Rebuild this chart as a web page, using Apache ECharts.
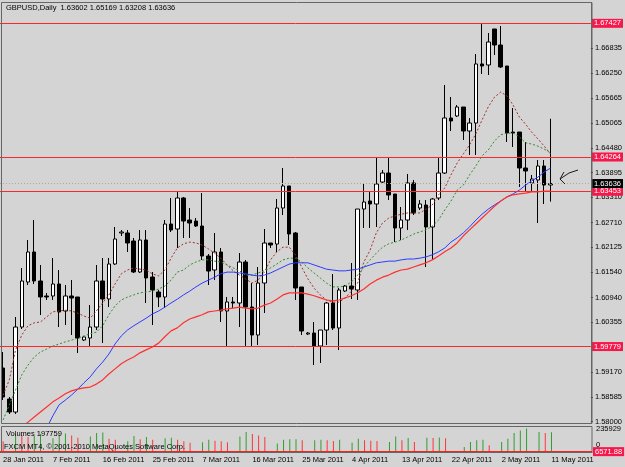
<!DOCTYPE html>
<html>
<head>
<meta charset="utf-8">
<title>GBPUSD Daily</title>
<script src="https://cdn.jsdelivr.net/npm/echarts@6/dist/echarts.min.js"></script>
<style>
  html, body { margin: 0; padding: 0; background: #d4d4d4; }
  #chart { width: 625px; height: 467px; }
</style>
</head>
<body>
<div id="chart"></div>
<script>
// daily bars (FXCM, sunday bars included)
const dates = [
  '28 Jan 2011','30 Jan 2011','31 Jan 2011',
  '1 Feb 2011','2 Feb 2011','3 Feb 2011','4 Feb 2011','6 Feb 2011','7 Feb 2011','8 Feb 2011','9 Feb 2011','10 Feb 2011','11 Feb 2011',
  '13 Feb 2011','14 Feb 2011','15 Feb 2011','16 Feb 2011','17 Feb 2011','18 Feb 2011','20 Feb 2011','21 Feb 2011','22 Feb 2011',
  '23 Feb 2011','24 Feb 2011','25 Feb 2011','27 Feb 2011','28 Feb 2011',
  '1 Mar 2011','2 Mar 2011','3 Mar 2011','4 Mar 2011','6 Mar 2011','7 Mar 2011','8 Mar 2011','9 Mar 2011','10 Mar 2011','11 Mar 2011',
  '13 Mar 2011','14 Mar 2011','15 Mar 2011','16 Mar 2011','17 Mar 2011','18 Mar 2011','20 Mar 2011','21 Mar 2011','22 Mar 2011',
  '23 Mar 2011','24 Mar 2011','25 Mar 2011','27 Mar 2011','28 Mar 2011','29 Mar 2011','30 Mar 2011','31 Mar 2011',
  '1 Apr 2011','3 Apr 2011','4 Apr 2011','5 Apr 2011','6 Apr 2011','7 Apr 2011','8 Apr 2011','10 Apr 2011','11 Apr 2011','12 Apr 2011',
  '13 Apr 2011','14 Apr 2011','15 Apr 2011','17 Apr 2011','18 Apr 2011','19 Apr 2011','20 Apr 2011','21 Apr 2011','22 Apr 2011',
  '24 Apr 2011','25 Apr 2011','26 Apr 2011','27 Apr 2011','28 Apr 2011','29 Apr 2011',
  '1 May 2011','2 May 2011','3 May 2011','4 May 2011','5 May 2011','6 May 2011','8 May 2011','9 May 2011','10 May 2011','11 May 2011'
];

const open = [
  1.59271,1.58537,1.58230,1.60241,1.61306,1.62016,1.61330,1.60975,1.60975,1.61259,
  1.60620,1.60975,1.60951,1.59934,1.59981,1.60241,1.61330,1.60904,1.61732,1.62466,
  1.62466,1.62276,1.61543,1.62300,1.61424,1.61069,1.60951,1.62678,1.62560,1.63294,
  1.62773,1.62749,1.62631,1.61921,1.61590,1.62016,1.60620,1.60833,1.60809,1.61779,
  1.60714,1.60052,1.61282,1.62229,1.62205,1.63057,1.63578,1.62466,1.61188,1.60076,
  1.60099,1.59792,1.60170,1.60809,1.60218,1.61093,1.61211,1.61117,1.63033,1.63223,
  1.63152,1.63672,1.63885,1.63388,1.62584,1.62773,1.63649,1.63057,1.63128,1.62608,
  1.63294,1.63885,1.65187,1.65234,1.65447,1.64879,1.65068,1.66465,1.66441,1.67293,
  1.66914,1.66417,1.64855,1.64855,1.64004,1.63649,1.63720,1.64051,1.63602
];
const close = [
  1.58585,1.58230,1.60241,1.61330,1.62016,1.61330,1.60951,1.60951,1.61259,1.60596,
  1.60975,1.60927,1.59981,1.60005,1.60241,1.61330,1.60904,1.61732,1.62324,1.62489,
  1.62229,1.61543,1.62300,1.61401,1.61117,1.60951,1.62678,1.62537,1.63294,1.62749,
  1.62702,1.62631,1.61921,1.61566,1.62016,1.60620,1.60833,1.60809,1.61779,1.60714,
  1.60052,1.61282,1.62229,1.62182,1.63057,1.63578,1.62442,1.61164,1.60147,1.60099,
  1.59792,1.60170,1.60809,1.60218,1.61117,1.61211,1.61140,1.63033,1.63199,1.63152,
  1.63625,1.63885,1.63365,1.62584,1.62773,1.63649,1.62939,1.63152,1.62608,1.63270,
  1.63885,1.65187,1.65116,1.65447,1.64879,1.65068,1.66465,1.66417,1.66985,1.66914,
  1.66394,1.64832,1.64832,1.64004,1.63933,1.63743,1.64051,1.63601,1.63636
];
const low = [
  1.58514,1.58183,1.58183,1.60194,1.61235,1.61259,1.60525,1.60880,1.60880,1.60241,
  1.60289,1.60052,1.59626,1.59910,1.59768,1.60170,1.59863,1.60714,1.61708,1.62395,
  1.62016,1.61519,1.61519,1.60809,1.60289,1.60714,1.60691,1.62489,1.62111,1.62347,
  1.62347,1.62608,1.61827,1.61235,1.61353,1.60359,1.59768,1.60691,1.60241,1.59768,
  1.59768,1.59815,1.60572,1.62111,1.62016,1.62891,1.62182,1.60880,1.60052,1.60052,
  1.59342,1.59390,1.59815,1.60170,1.59697,1.61069,1.60904,1.60880,1.62584,1.62584,
  1.62608,1.63649,1.63246,1.62253,1.62300,1.62537,1.62891,1.63010,1.61661,1.61827,
  1.63246,1.63862,1.64879,1.65210,1.64666,1.64311,1.64311,1.66228,1.66204,1.66678,
  1.66370,1.64619,1.64501,1.63554,1.63436,1.63436,1.62702,1.63152,1.63208
];
const high = [
  1.59650,1.58585,1.60478,1.61637,1.62300,1.62773,1.61708,1.61046,1.61874,1.61590,
  1.61235,1.61353,1.60951,1.60028,1.60762,1.61708,1.61874,1.61874,1.62608,1.62537,
  1.62537,1.62347,1.62537,1.62537,1.61543,1.61117,1.62773,1.63294,1.63436,1.63317,
  1.63057,1.62820,1.63412,1.61969,1.62466,1.62111,1.60951,1.60951,1.61992,1.61827,
  1.61282,1.61661,1.62560,1.62229,1.63270,1.64004,1.63578,1.62489,1.61188,1.60123,
  1.60359,1.60170,1.60833,1.61495,1.61164,1.61235,1.61756,1.63033,1.63649,1.63436,
  1.64240,1.63956,1.64240,1.63388,1.63081,1.63862,1.63720,1.63246,1.63246,1.63294,
  1.64240,1.65968,1.65684,1.65494,1.65447,1.65187,1.66701,1.67427,1.67198,1.67293,
  1.67364,1.66417,1.65423,1.64855,1.64619,1.63838,1.64193,1.64193,1.65169
];

// moving averages
const maFast = [
  1.5863,1.5899,1.5970,1.6005,1.6027,1.6034,1.6036,1.6048,1.6060,1.6062,
  1.6064,1.6062,1.6057,1.6050,1.6045,1.6062,1.6081,1.6100,1.6126,1.6150,
  1.6159,1.6164,1.6161,1.6159,1.6150,1.6145,1.6159,1.6187,1.6211,1.6221,
  1.6225,1.6223,1.6218,1.6209,1.6199,1.6187,1.6171,1.6157,1.6147,1.6138,
  1.6128,1.6135,1.6154,1.6183,1.6202,1.6213,1.6213,1.6195,1.6166,1.6138,
  1.6116,1.6100,1.6088,1.6083,1.6083,1.6093,1.6109,1.6128,1.6178,1.6206,
  1.6247,1.6270,1.6282,1.6287,1.6291,1.6294,1.6294,1.6294,1.6303,1.6313,
  1.6337,1.6353,1.6384,1.6412,1.6434,1.6455,1.6481,1.6514,1.6545,1.6568,
  1.6580,1.6571,1.6549,1.6521,1.6504,1.6485,1.6469,1.6452,1.6434
];
const maMid = [
  1.5804,1.5840,1.5875,1.5911,1.5934,1.5953,1.5965,1.5972,1.5979,1.5984,
  1.5989,1.5993,1.5998,1.6003,1.6008,1.6012,1.6027,1.6053,1.6074,1.6088,
  1.6095,1.6100,1.6105,1.6107,1.6109,1.6114,1.6121,1.6135,1.6154,1.6159,
  1.6171,1.6178,1.6183,1.6183,1.6180,1.6178,1.6171,1.6164,1.6157,1.6147,
  1.6147,1.6152,1.6157,1.6164,1.6173,1.6183,1.6187,1.6187,1.6178,1.6164,
  1.6152,1.6140,1.6128,1.6119,1.6119,1.6121,1.6131,1.6147,1.6166,1.6183,
  1.6199,1.6213,1.6221,1.6225,1.6230,1.6237,1.6244,1.6249,1.6254,1.6263,
  1.6277,1.6301,1.6322,1.6348,1.6360,1.6384,1.6405,1.6429,1.6443,1.6464,
  1.6479,1.6483,1.6483,1.6474,1.6460,1.6457,1.6452,1.6445,1.6436
];
const maBlue = [
  1.5662,1.5679,1.5695,1.5712,1.5728,1.5745,1.5764,1.5785,1.5814,1.5840,
  1.5851,1.5863,1.5877,1.5892,1.5906,1.5925,1.5941,1.5960,1.5984,1.6003,
  1.6017,1.6027,1.6036,1.6045,1.6055,1.6062,1.6071,1.6081,1.6090,1.6100,
  1.6109,1.6119,1.6128,1.6135,1.6142,1.6150,1.6154,1.6154,1.6152,1.6150,
  1.6147,1.6145,1.6147,1.6152,1.6159,1.6166,1.6173,1.6176,1.6176,1.6176,
  1.6171,1.6166,1.6161,1.6159,1.6157,1.6157,1.6159,1.6161,1.6166,1.6171,
  1.6176,1.6178,1.6180,1.6180,1.6183,1.6185,1.6185,1.6187,1.6190,1.6195,
  1.6202,1.6211,1.6225,1.6235,1.6247,1.6261,1.6277,1.6291,1.6303,1.6313,
  1.6322,1.6332,1.6339,1.6348,1.6360,1.6370,1.6379,1.6391,1.6400
];
const maRed = [
  1.5757,1.5766,1.5778,1.5788,1.5799,1.5811,1.5823,1.5835,1.5847,1.5856,
  1.5866,1.5873,1.5877,1.5880,1.5882,1.5889,1.5899,1.5913,1.5925,1.5937,
  1.5946,1.5953,1.5963,1.5970,1.5977,1.5986,1.6001,1.6015,1.6022,1.6034,
  1.6043,1.6048,1.6053,1.6060,1.6062,1.6064,1.6067,1.6069,1.6071,1.6069,
  1.6067,1.6069,1.6076,1.6081,1.6090,1.6100,1.6105,1.6105,1.6105,1.6102,
  1.6098,1.6093,1.6088,1.6086,1.6088,1.6093,1.6098,1.6105,1.6114,1.6126,
  1.6135,1.6142,1.6147,1.6154,1.6159,1.6161,1.6166,1.6171,1.6176,1.6183,
  1.6192,1.6202,1.6211,1.6223,1.6240,1.6254,1.6268,1.6282,1.6296,1.6310,
  1.6322,1.6332,1.6337,1.6339,1.6341,1.6344,1.6344,1.6346,1.6346
];

const volumes = [
  110000,5000,180000,170000,150000,160000,180000,5000,140000,175000,
  185000,165000,145000,4000,157000,190000,195000,135000,125000,5000,
  110000,160000,130000,150000,125000,5000,140000,145000,125000,110000,
  95000,4000,100000,125000,115000,110000,100000,4000,157000,200000,
  180000,165000,150000,4000,88000,125000,128000,130000,118000,4000,
  118000,125000,118000,112000,125000,5000,95000,135000,118000,115000,
  112000,4000,101000,157000,118000,141000,101000,4000,144000,141000,
  146000,138000,10000,3000,52000,101000,118000,125000,69000,5000,
  101000,135000,190000,216000,235929,6000,200000,190000,197759
];

const priceTicks = [1.58000,1.58585,1.59170,1.60355,1.60940,1.61540,1.62125,1.62710,
  1.63310,1.63895,1.64480,1.65065,1.65665,1.66250,1.66835];
const levels = [1.67427, 1.64264, 1.63453, 1.59779];
const bid = 1.63636;
const volLevel = 6571.88;
const volMax = 235929;

const chart = echarts.init(document.getElementById('chart'));

const shift = 6; // empty bars on the right (chart shift)
const cats = dates.concat(new Array(shift).fill(''));
const last = dates.length - 1;
const font = 'Liberation Sans';
const fs = 7.5;
const fmt = v => v.toFixed(5);
const frame = '#666666';

const candles = dates.map((d, i) => [open[i], close[i], low[i], high[i]]);
const volData = volumes.map((v, i) => ({
  value: v,
  itemStyle: { color: i > 0 && v > volumes[i - 1] ? '#2f9f2f' : '#ff3535' }
}));

function boxLabel(text, bg) {
  return {
    show: true, position: 'end', distance: 1,
    formatter: text, color: '#ffffff', backgroundColor: bg,
    padding: [1, 2, 0, 2], fontSize: fs, fontFamily: font
  };
}

const levelLines = levels.map(v => ({
  yAxis: v,
  lineStyle: { color: '#ff2626', width: 1, type: 'solid' },
  label: boxLabel(fmt(v), '#f7174b')
}));
levelLines.push({
  yAxis: bid,
  lineStyle: { color: '#a9a9a9', width: 1, type: [1, 2] },
  label: boxLabel(fmt(bid), '#000000')
});

function maLine(data, color, width, type) {
  return {
    type: 'line', xAxisIndex: 0, yAxisIndex: 0, data: data,
    showSymbol: false, silent: true, z: 3,
    lineStyle: { color: color, width: width, type: type }
  };
}

chart.setOption({
  backgroundColor: '#d4d4d4',
  animation: false,
  textStyle: { fontFamily: font },
  grid: [
    { left: 0, right: 33, top: 3, height: 420.5 },
    { left: 0, right: 33, top: 427, height: 25.3 }
  ],
  xAxis: [
    { type: 'category', gridIndex: 0, data: cats, boundaryGap: true, show: false },
    {
      type: 'category', gridIndex: 1, data: cats, boundaryGap: true,
      axisLine: { lineStyle: { color: frame } },
      axisTick: { alignWithLabel: true, interval: 7, length: 3, lineStyle: { color: frame } },
      axisLabel: { interval: 7, align: 'left', fontSize: fs, color: '#000', margin: 4, fontFamily: font }
    }
  ],
  yAxis: [
    {
      type: 'value', gridIndex: 0, position: 'right', min: 1.57958, max: 1.67908,
      splitLine: { show: false },
      axisLine: { show: true, lineStyle: { color: frame } },
      axisTick: { show: true, customValues: priceTicks, length: 2, lineStyle: { color: '#333' } },
      axisLabel: { customValues: priceTicks, formatter: fmt, fontSize: fs, color: '#000', margin: 4, fontFamily: font }
    },
    { type: 'value', gridIndex: 1, min: 0, max: 250000, show: false }
  ],
  series: [
    {
      type: 'candlestick', xAxisIndex: 0, yAxisIndex: 0, data: candles,
      barWidth: 4, z: 2,
      itemStyle: {
        color: '#ffffff', color0: '#000000',
        borderColor: '#000000', borderColor0: '#000000', borderColorDoji: '#000000',
        borderWidth: 1
      },
      markLine: { symbol: 'none', silent: true, animation: false, precision: 5, data: levelLines }
    },
    maLine(maFast, '#a3302c', 1, [2, 2]),
    maLine(maMid, '#2e8f2e', 1, [2, 2]),
    maLine(maBlue, '#2b3bff', 1, 'solid'),
    maLine(maRed, '#ff3030', 1.2, 'solid'),
    {
      type: 'bar', xAxisIndex: 1, yAxisIndex: 1, data: volData, barWidth: 1, silent: true,
      markLine: {
        symbol: 'none', silent: true, animation: false, precision: 2,
        data: [{
          yAxis: volLevel,
          lineStyle: { color: '#ff1f1f', width: 2, type: 'solid' },
          label: boxLabel(volLevel.toFixed(2), '#f7174b')
        }]
      }
    }
  ],
  graphic: [
    { type: 'rect', silent: true, z: 50, shape: { x: 1.5, y: 2.5, width: 590.5, height: 421 },
      style: { fill: 'none', stroke: frame, lineWidth: 1 } },
    { type: 'rect', silent: true, z: 50, shape: { x: 1.5, y: 426.5, width: 590.5, height: 26 },
      style: { fill: 'none', stroke: frame, lineWidth: 1 } },
    { type: 'text', x: 6, y: 4, z: 60,
      style: { text: 'GBPUSD,Daily  ' + fmt(open[last]) + ' ' + fmt(high[last]) + ' ' + fmt(low[last]) + ' ' + fmt(close[last]),
        fill: '#000', fontSize: fs, fontFamily: font } },
    { type: 'text', x: 6, y: 430, z: 60,
      style: { text: 'Volumes ' + volumes[last], fill: '#000', fontSize: fs, fontFamily: font } },
    { type: 'text', x: 4, y: 443, z: 60,
      style: { text: 'FXCM MT4, \u00a9 2001-2010 MetaQuotes Software Corp.', fill: '#000', fontSize: fs, fontFamily: font } },
    { type: 'text', x: 596, y: 424.5, z: 60,
      style: { text: String(volMax), fill: '#000', fontSize: fs, fontFamily: font } },
    { type: 'text', x: 596, y: 441, z: 60,
      style: { text: '0', fill: '#000', fontSize: fs, fontFamily: font } },
    // hand drawn arrow pointing at the last bars
    { type: 'polyline', silent: true, z: 60, shape: { points: [[578, 170], [569, 173], [560, 179]] },
      style: { stroke: '#1a1a1a', lineWidth: 1, fill: null } },
    { type: 'polyline', silent: true, z: 60, shape: { points: [[564, 172], [560, 179], [565, 184]] },
      style: { stroke: '#1a1a1a', lineWidth: 1, fill: null } }
  ]
});
</script>
</body>
</html>
